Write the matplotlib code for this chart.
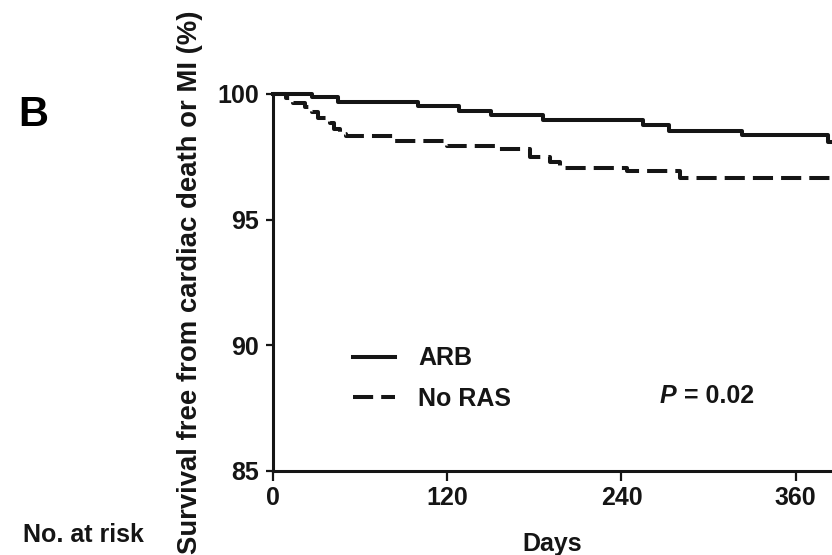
import numpy as np
import matplotlib
matplotlib.use("Agg")
import matplotlib.pyplot as plt

plt.rcParams['font.family'] = ['Liberation Sans', 'DejaVu Sans']
plt.rcParams['font.weight'] = 'bold'

# Kaplan-Meier steps (days, survival %)
arb_days = [0, 27, 45, 100, 128, 150, 186, 255, 273, 323, 382, 385]
arb_surv = [100, 99.89, 99.70, 99.52, 99.34, 99.17, 98.97, 98.77, 98.54, 98.35, 98.10, 98.10]

noras_days = [0, 9, 14, 22, 27, 31, 39, 42, 46, 50, 83, 120, 156, 177, 191, 198, 244, 280, 385]
noras_surv = [100, 99.83, 99.63, 99.47, 99.30, 99.05, 98.85, 98.60, 98.40, 98.31,
              98.13, 97.94, 97.80, 97.51, 97.30, 97.07, 96.92, 96.65, 96.65]

x_ticks = [0, 120, 240, 360]
y_ticks = [85, 90, 95, 100]
labels = ['ARB', 'No RAS']
ink = '#151515'

fig = plt.figure(figsize=(8.32, 5.55), dpi=100)
ax = fig.add_axes([0.3281, 0.1514, 0.6719, 0.6793])

l1, = ax.step(arb_days, arb_surv, where='post', color=ink, lw=2.9,
              clip_on=False, label=labels[0])
l2, = ax.step(noras_days, noras_surv, where='post', color=ink, lw=2.9,
              ls=(0, (5, 2)), clip_on=False, label=labels[1])

ax.set_xlim(0, 385)
ax.set_ylim(85, 100)
ax.set_xticks(x_ticks)
ax.set_yticks(y_ticks)
ax.tick_params(axis='x', direction='out', length=7, width=1.6, pad=4,
               labelsize=18, colors=ink)
ax.tick_params(axis='y', direction='out', length=5, width=1.6, pad=5,
               labelsize=18, colors=ink)
for s in ['top', 'right']:
    ax.spines[s].set_visible(False)
for s in ['left', 'bottom']:
    ax.spines[s].set_linewidth(2.2)
    ax.spines[s].set_color(ink)

ax.set_xlabel('Days', fontsize=18, fontweight='bold', labelpad=16, color=ink)
ax.set_ylabel('Survival free from cardiac death or MI (%)', fontsize=19.8,
              fontweight='bold', labelpad=10, color=ink)

leg = ax.legend(handles=[l1, l2], loc='center left', bbox_to_anchor=(0.143, 0.245),
                frameon=False, fontsize=18, handlelength=1.7, handletextpad=0.9,
                labelspacing=0.65, borderpad=0, borderaxespad=0)
for t in leg.get_texts():
    t.set_color(ink)

pt = ax.text(266.5, 88.0, 'P', fontsize=18, fontweight='bold', style='italic',
             va='center', ha='left', color=ink)
ax.annotate(' = 0.02', xy=(1, 0.5), xycoords=pt, va='center', ha='left',
            fontsize=18, fontweight='bold', color=ink)

fig.text(0.040, 0.793, 'B', fontsize=30, fontweight='bold', ha='center', va='center')
fig.text(0.028, 0.036, 'No. at risk', fontsize=18, fontweight='bold', ha='left',
         va='center', color=ink)

fig.savefig('out.png', dpi=100)
